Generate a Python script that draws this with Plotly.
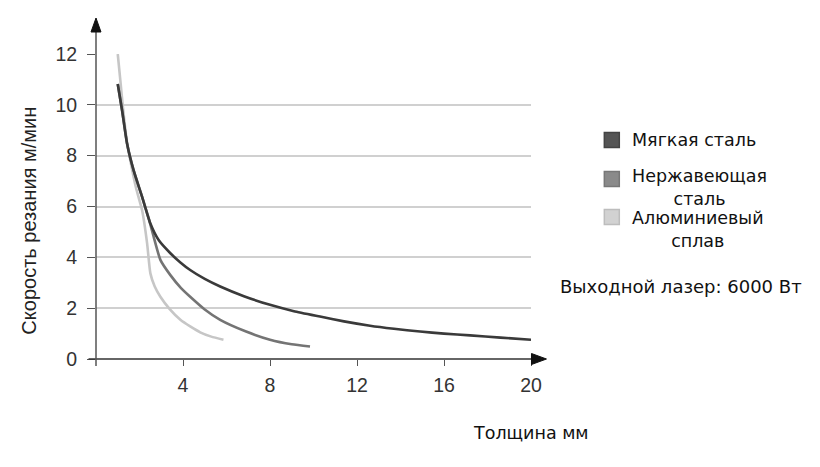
import plotly.graph_objects as go

# толщина (мм) и скорость резания (м/мин)
mild_x = [1.0, 1.2, 1.43, 1.73, 2.12, 2.5, 2.88, 3.42, 3.88, 4.33, 5.0, 5.71, 6.8, 8.0, 9.1, 10.3, 11.4, 12.6, 13.7, 14.9, 16.0, 17.2, 18.6, 20.0]
mild_y = [10.82, 9.78, 8.47, 7.42, 6.38, 5.33, 4.68, 4.16, 3.8, 3.5, 3.15, 2.85, 2.47, 2.13, 1.88, 1.67, 1.48, 1.31, 1.19, 1.08, 1.0, 0.93, 0.84, 0.76]

stainless_x = [1.0, 1.2, 1.43, 1.73, 2.12, 2.45, 2.65, 2.96, 3.42, 3.9, 4.33, 5.0, 5.71, 6.9, 8.0, 9.0, 9.84]
stainless_y = [10.82, 9.78, 8.47, 7.42, 6.38, 5.45, 4.81, 3.9, 3.3, 2.8, 2.45, 1.95, 1.54, 1.08, 0.76, 0.58, 0.49]

alu_x = [1.0, 1.12, 1.25, 1.43, 1.65, 1.85, 2.12, 2.35, 2.5, 2.7, 2.96, 3.4, 3.88, 4.33, 4.79, 5.3, 5.86]
alu_y = [12.0, 10.95, 9.8, 8.5, 7.5, 6.7, 5.85, 4.55, 3.37, 2.85, 2.45, 1.95, 1.54, 1.28, 1.05, 0.88, 0.76]

x_ticks = [4, 8, 12, 16, 20]
y_ticks = [0, 2, 4, 6, 8, 10, 12]

legend_labels = ["Мягкая сталь", "Нержавеющая<br>сталь", "Алюминиевый<br>сплав"]
legend_fill = ["#555555", "#8a8a8a", "#d2d2d2"]
legend_edge = ["#444444", "#777777", "#bdbdbd"]


# пиксели страницы -> координаты paper (область графика: x 95.5..531.5, y 54..359)
def px(x):
    return (x - 95.5) / 436


def py(y):
    return (359 - y) / 305


fig = go.Figure()

for xs, ys, color in [(alu_x, alu_y, "#c6c6c6"),
                      (stainless_x, stainless_y, "#747474"),
                      (mild_x, mild_y, "#3a3a3a")]:
    fig.add_trace(go.Scatter(
        x=xs, y=ys, mode="lines",
        line=dict(color=color, width=2.6, shape="spline", smoothing=0.5),
        cliponaxis=False, showlegend=False, hoverinfo="skip"
    ))

# оси со стрелками
axis_col = "#333333"
fig.add_shape(type="line", xref="paper", yref="paper", x0=px(88), x1=px(534), y0=py(359), y1=py(359),
              line=dict(color=axis_col, width=1.5))
fig.add_shape(type="line", xref="paper", yref="paper", x0=px(95.5), x1=px(95.5), y0=py(366), y1=py(30),
              line=dict(color="#555555", width=1.5))
fig.add_shape(type="path", xref="paper", yref="paper",
              path=f"M {px(532)} {py(353.5)} L {px(547)} {py(359)} L {px(532)} {py(364.5)} Z",
              fillcolor="#111111", line=dict(color="#111111", width=1))
fig.add_shape(type="path", xref="paper", yref="paper",
              path=f"M {px(90.5)} {py(32)} L {px(95.5)} {py(18)} L {px(100.5)} {py(32)} Z",
              fillcolor="#111111", line=dict(color="#111111", width=1))

# легенда вручную
text_font = dict(family="DejaVu Sans", size=17.5, color="#111111")
square_y = [140, 179, 217]
label_y = [140, 187.5, 229]
for label, fill, edge, sy, ly in zip(legend_labels, legend_fill, legend_edge, square_y, label_y):
    fig.add_shape(type="rect", xref="paper", yref="paper",
                  x0=px(605), x1=px(620), y0=py(sy + 7.5), y1=py(sy - 7.5),
                  fillcolor=fill, line=dict(color=edge, width=1.5))
    fig.add_annotation(x=px(631), y=py(ly), xref="paper", yref="paper", text=label,
                       showarrow=False, xanchor="left", yanchor="middle", align="center",
                       font=text_font)

fig.add_annotation(x=px(682), y=py(286.5), xref="paper", yref="paper",
                   text="Выходной лазер: 6000 Вт", showarrow=False, xanchor="center", yanchor="middle",
                   font=dict(family="DejaVu Sans", size=18, color="#111111"))
fig.add_annotation(x=px(531), y=py(432.5), xref="paper", yref="paper",
                   text="Толщина мм", showarrow=False, xanchor="center", yanchor="middle",
                   font=text_font)
fig.add_annotation(x=px(28), y=py(221), xref="paper", yref="paper",
                   text="Скорость резания м/мин", showarrow=False, textangle=-90,
                   xanchor="center", yanchor="middle",
                   font=dict(family="Liberation Sans", size=20, color="#222222"))

tick_font = dict(family="Liberation Sans", size=19.5, color="#333333")
fig.update_xaxes(range=[0, 20], tickvals=x_ticks, ticks="outside", ticklen=6, tickcolor="#555555",
                 tickwidth=1.3, showgrid=False, zeroline=False, showline=False,
                 tickfont=tick_font, ticklabelstandoff=3)
fig.update_yaxes(range=[0, 12], tickvals=y_ticks, ticks="outside", ticklen=8, tickcolor="#555555",
                 tickwidth=1.3, showgrid=True, gridcolor="#d0d0d0", gridwidth=1.6,
                 zeroline=False, showline=False, tickfont=tick_font, ticklabelstandoff=6)

# страница добавляет отступ 8 px, поэтому фигура чуть меньше окна
fig.update_layout(
    width=812, height=459,
    margin=dict(l=87.5, r=288.5, t=46, b=108),
    plot_bgcolor="white", paper_bgcolor="white",
    showlegend=False,
)

fig.write_html("out.html")
